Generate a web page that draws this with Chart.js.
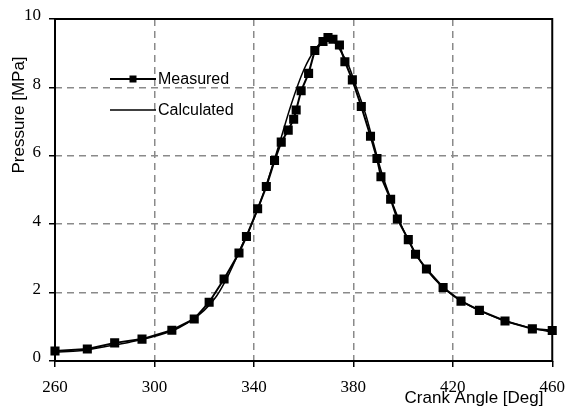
<!DOCTYPE html>
<html>
<head>
<meta charset="utf-8">
<script src="https://cdn.jsdelivr.net/npm/chart.js@4.4.0/dist/chart.umd.min.js"></script>
<style>
  html, body { margin: 0; padding: 0; background: #fff; }
  #wrap { width: 575px; height: 418px; }
</style>
</head>
<body>
<div id="wrap"><canvas id="pressureChart"></canvas></div>
<script>
// Measured pressure trace
var measuredAngle = [260, 273, 284, 295, 307, 316, 322, 328, 334, 337, 341.5, 345, 348.3, 351, 353.8,
  356, 357, 359, 362, 364.5, 367.8, 369.8, 371.8, 374.4, 376.6, 379.6, 383.2, 386.9, 389.5, 391.1,
  395, 397.7, 402.1, 405, 409.4, 416.1, 423.3, 430.7, 441, 452, 460];
var measuredPressure = [0.29, 0.35, 0.53, 0.64, 0.90, 1.23, 1.72, 2.40, 3.16, 3.64, 4.45, 5.10, 5.86, 6.40, 6.75,
  7.07, 7.34, 7.90, 8.41, 9.08, 9.34, 9.46, 9.41, 9.24, 8.75, 8.22, 7.44, 6.57, 5.92, 5.39,
  4.73, 4.15, 3.55, 3.12, 2.69, 2.15, 1.75, 1.48, 1.17, 0.94, 0.89];

// Calculated pressure trace
var calcAngle = [260, 270, 280, 290, 300, 310, 320, 325, 330, 335, 340, 345, 350, 355, 360, 365, 368,
  370, 372, 375, 378, 381, 385, 388, 391, 395, 400, 405, 410, 415, 420, 430, 440, 450, 460];
var calcPressure = [0.26, 0.30, 0.42, 0.55, 0.72, 0.98, 1.48, 1.90, 2.55, 3.35, 4.15, 5.15, 6.30, 7.50, 8.50, 9.15, 9.35,
  9.40, 9.35, 9.05, 8.65, 8.05, 7.20, 6.40, 5.60, 4.75, 3.85, 3.15, 2.62, 2.22, 1.92, 1.50, 1.20, 0.99, 0.84];

var xTicks = [260, 300, 340, 380, 420, 460];
var yTicks = [0, 2, 4, 6, 8, 10];

function toPoints(xs, ys) {
  return xs.map(function (x, i) { return { x: x, y: ys[i] }; });
}

var serif = "'Liberation Serif', 'DejaVu Serif', serif";
var sans = "'Liberation Sans', Arial, sans-serif";

// frame around plot, axis titles and in-plot legend
var extras = {
  id: "extras",
  beforeDatasetsDraw: function (chart) {
    var a = chart.chartArea, ctx = chart.ctx;
    ctx.save();
    ctx.strokeStyle = "#000";
    ctx.lineWidth = 2;
    ctx.strokeRect(a.left, a.top, a.right - a.left, a.bottom - a.top);
    ctx.restore();
  },
  afterDraw: function (chart) {
    var ctx = chart.ctx;
    ctx.save();
    ctx.fillStyle = "#000";
    ctx.font = "17px " + sans;
    ctx.textAlign = "center";
    ctx.textBaseline = "middle";
    ctx.fillText("Crank Angle [Deg]", 474, 398);
    ctx.translate(19, 115);
    ctx.rotate(-Math.PI / 2);
    ctx.fillText("Pressure [MPa]", 0, 0);
    ctx.restore();

    // legend
    var ds = chart.data.datasets;
    var rows = [79, 110];
    ctx.save();
    ctx.font = "16px " + sans;
    ctx.textAlign = "left";
    ctx.textBaseline = "middle";
    ds.forEach(function (d, i) {
      var y = rows[i];
      ctx.strokeStyle = "#000";
      ctx.lineWidth = d.borderWidth;
      ctx.beginPath();
      ctx.moveTo(110, y);
      ctx.lineTo(156, y);
      ctx.stroke();
      if (d.pointRadius > 0) {
        ctx.fillStyle = "#000";
        ctx.fillRect(133 - 3.5, y - 3.5, 7, 7);
      }
      ctx.fillStyle = "#000";
      ctx.fillText(d.label, 158, y + 1);
    });
    ctx.restore();
  }
};

var ctx = document.getElementById("pressureChart");
var pressureChart = new Chart(ctx, {
  type: "line",
  data: {
    datasets: [{
      label: "Measured",
      data: toPoints(measuredAngle, measuredPressure),
      borderColor: "#000",
      backgroundColor: "#000",
      borderWidth: 2,
      pointStyle: "rect",
      pointRadius: 5,
      pointHoverRadius: 5,
      tension: 0,
      clip: false
    }, {
      label: "Calculated",
      data: toPoints(calcAngle, calcPressure),
      borderColor: "#000",
      borderWidth: 1.5,
      pointRadius: 0,
      cubicInterpolationMode: "monotone",
      clip: false
    }]
  },
  options: {
    responsive: true,
    maintainAspectRatio: false,
    animation: false,
    layout: { padding: { left: 0, right: 13, top: 19, bottom: 0 } },
    plugins: {
      legend: { display: false },
      tooltip: { enabled: false }
    },
    scales: {
      x: {
        type: "linear",
        min: 260,
        max: 460,
        afterBuildTicks: function (scale) {
          scale.ticks = xTicks.map(function (v) { return { value: v }; });
        },
        afterFit: function (scale) { scale.height = 57; },
        ticks: { color: "#000", font: { family: serif, size: 17 }, padding: 10, maxRotation: 0 },
        grid: {
          color: function (c) { return (c.tick && (c.tick.value === 260 || c.tick.value === 460)) ? "rgba(0,0,0,0)" : "#8a8a8a"; },
          lineWidth: 1.5,
          tickColor: "#000",
          tickLength: 6,
          tickWidth: 1.5
        },
        border: { display: false, dash: [7, 5] }
      },
      y: {
        min: 0,
        max: 10,
        afterBuildTicks: function (scale) {
          scale.ticks = yTicks.map(function (v) { return { value: v }; });
        },
        afterFit: function (scale) { scale.width = 55; },
        ticks: { color: "#000", font: { family: serif, size: 17 }, padding: 8, labelOffset: -3 },
        grid: {
          color: function (c) { return (c.tick && (c.tick.value === 0 || c.tick.value === 10)) ? "rgba(0,0,0,0)" : "#8a8a8a"; },
          lineWidth: 1.5,
          tickColor: "#000",
          tickLength: 6,
          tickWidth: 1.5
        },
        border: { display: false, dash: [7, 5] }
      }
    }
  },
  plugins: [extras]
});
</script>
</body>
</html>
